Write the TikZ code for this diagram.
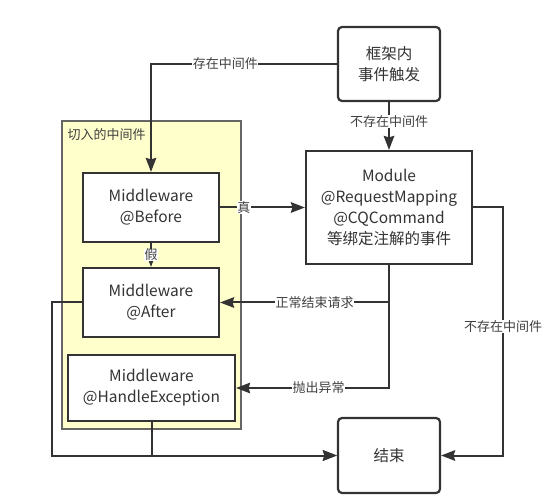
\documentclass[tikz,border=0pt]{standalone}
\usepackage{fontspec}
\setmainfont{Noto Sans CJK SC}
\usetikzlibrary{arrows.meta}
\definecolor{linegray}{HTML}{333333}
\definecolor{groupfill}{HTML}{FFFFCC}
\definecolor{groupline}{HTML}{666666}

\begin{document}
\begin{tikzpicture}[x=1pt, y=-1pt, line width=2pt, draw=linegray,
  box/.style={draw=linegray, fill=white, line width=2.2pt, align=center,
    inner sep=0pt, font=\fontsize{15.5}{21}\selectfont, text=linegray},
  rbox/.style={box, rounded corners=4pt},
  grp/.style={draw=groupline, fill=groupfill, line width=1.8pt},
  lbl/.style={fill=white, inner sep=0.5pt, font=\fontsize{13}{15}\selectfont, text=black!75},
  arr/.style={-{Stealth[length=14pt, width=10.5pt, inset=1.5pt]}}]
  \useasboundingbox (0,0) rectangle (551,502);

  % middleware group
  \node[grp, minimum width=179, minimum height=308] (mwgroup) at (151.5,275) {};
  \node[anchor=west, inner sep=0pt, font=\fontsize{13}{15}\selectfont, text=black!75]
    (mwtitle) at (66.5,135) {切入的中间件};

  % boxes
  \node[rbox, minimum width=102, minimum height=74] (trigger) at (389,64) {框架内\\事件触发};
  \node[box, minimum width=166, minimum height=113] (module) at (389,207.5)
    {Module\\@RequestMapping\\@CQCommand\\等绑定注解的事件};
  \node[box, minimum width=136, minimum height=69] (before) at (151,207.5) {Middleware\\@Before};
  \node[box, minimum width=136, minimum height=69] (after) at (151,302.5) {Middleware\\@After};
  \node[box, minimum width=167, minimum height=66] (handle) at (151.5,388)
    {Middleware\\@HandleException};
  \node[rbox, minimum width=102, minimum height=75] (finish) at (389,455.5) {结束};

  % connectors
  \draw[arr] (trigger.west) -| node[lbl, pos=0.3] {存在中间件} (before.north);
  \draw[arr] (trigger) -- node[lbl, pos=0.4] {不存在中间件} (module);
  \draw[arr] (before) -- node[lbl, pos=0.28] {真} (module);
  \draw[arr] (before) -- node[lbl] {假} (after);
  \draw[arr] (module.south) |- node[lbl, pos=0.72] {正常结束请求} (after.east);
  \draw[arr] (module.south) |- node[lbl, pos=0.73] {抛出异常} (handle.east);
  \draw[arr] (module.east) -- ++(30,0) |- node[lbl, pos=0.24] {不存在中间件} (finish.east);
  \draw[arr] (after.west) -- ++(-30,0) |- (finish.west);
  \draw[arr] (handle.south) |- (finish.west);
\end{tikzpicture}
\end{document}
